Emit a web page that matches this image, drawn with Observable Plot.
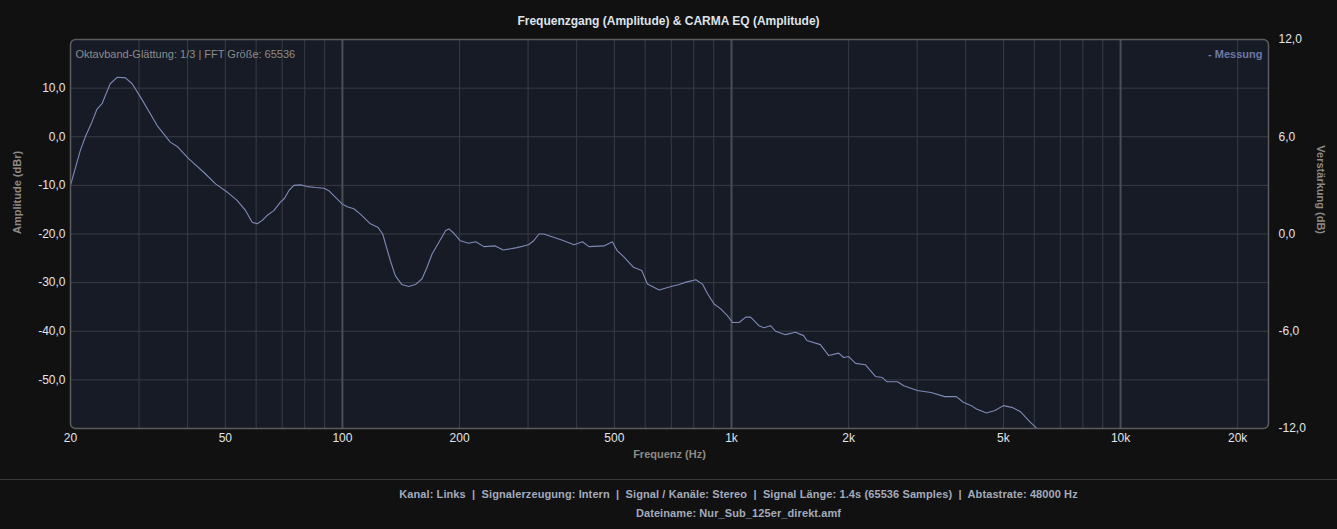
<!DOCTYPE html>
<html><head><meta charset="utf-8">
<script src="https://cdn.jsdelivr.net/npm/d3@7"></script>
<script src="https://cdn.jsdelivr.net/npm/@observablehq/plot@0.6"></script>
<style>
html,body{margin:0;padding:0;background:#111111;}
body{width:1337px;height:529px;overflow:hidden;font-family:"Liberation Sans",Arial,sans-serif;}
#title{height:16px;padding-top:14px;line-height:14px;text-align:center;font-size:12px;font-weight:bold;color:#dfe3ea;}
#chart{height:449px;}
#footer{border-top:1px solid #3a3a3a;padding-top:5px;padding-left:140px;text-align:center;font-family:"Liberation Sans",Arial,sans-serif;font-size:11px;letter-spacing:0.1px;font-weight:bold;line-height:19px;color:#a3abbb;}
</style>
</head><body>
<div id="title">Frequenzgang (Amplitude) &amp; CARMA EQ (Amplitude)</div>
<div id="chart"></div>
<div id="footer"><div>Kanal: Links &nbsp;|&nbsp; Signalerzeugung: Intern &nbsp;|&nbsp; Signal / Kanäle: Stereo &nbsp;|&nbsp; Signal Länge: 1.4s (65536 Samples) &nbsp;|&nbsp; Abtastrate: 48000 Hz</div><div>Dateiname: Nur_Sub_125er_direkt.amf</div></div>
<script>
const freqs = [20,21.2,21.9,22.7,23.4,24.1,25.3,26.4,27.7,28.8,30.3,33.4,36.1,37.6,40.3,44.0,47.2,50.6,53.6,56.4,58.6,60.4,62.2,64.0,66.6,69.2,71.0,72.8,75.0,78.0,81.2,85.4,89.7,92.2,95.0,99.8,102.8,107,111.2,118,123.2,126.9,129,132.8,136.8,142.2,148,154,160.2,165,170,177,184.2,187.8,193.4,201,211,220,231,247,259,281,301,310,320,329,363,394,414,430,470,494,508,528,560,588,608,652,699,734,764,810,842,868,902,938,976,1006,1046,1088,1120,1176,1212,1260,1298,1376,1460,1532,1562,1692,1778,1886,1942,2000,2084,2210,2344,2438,2510,2670,2772,3002,3258,3532,3784,3942,4136,4262,4524,4754,4998,5252,5520,5858,6154];
const amplitude = [-10.0,-2.8,0.25,3.0,5.7,6.8,10.9,12.25,12.1,10.9,8.1,2.3,-1.1,-2.0,-4.55,-7.3,-9.7,-11.4,-13.1,-15.2,-17.6,-17.9,-17.2,-16.2,-15.2,-13.5,-12.65,-11.1,-10.0,-9.9,-10.25,-10.45,-10.6,-11.1,-12.1,-13.8,-14.4,-14.8,-15.9,-17.9,-18.6,-20.0,-22.0,-25.5,-28.6,-30.4,-30.8,-30.4,-29.2,-26.85,-24.1,-21.7,-19.3,-18.95,-19.85,-21.4,-21.9,-21.6,-22.6,-22.45,-23.3,-22.8,-22.2,-21.4,-20.0,-20.0,-21.15,-22.2,-21.6,-22.6,-22.45,-21.6,-23.4,-24.65,-26.85,-27.5,-30.3,-31.5,-30.8,-30.4,-29.9,-29.4,-30.3,-32.3,-34.4,-35.4,-36.8,-38.2,-38.2,-37.1,-37.1,-38.85,-39.3,-38.85,-40.0,-40.7,-40.2,-40.9,-41.9,-42.75,-45.0,-44.5,-45.4,-45.2,-46.6,-46.9,-49.3,-49.5,-50.4,-50.4,-51.2,-52.2,-52.6,-53.45,-53.45,-54.6,-55.3,-56.0,-56.8,-56.3,-55.3,-55.65,-56.5,-58.7,-60.3];
const xTicks = [20,50,100,200,500,1000,2000,5000,10000,20000];
const yTicksLeft = [-50,-40,-30,-20,-10,0,10];
const yTicksRight = [-12,-6,0,6,12];
const minorGrid = [30,40,50,60,70,80,90,200,300,400,500,600,700,800,900,2000,3000,4000,5000,6000,7000,8000,9000,20000];
const majorGrid = [100,1000,10000];
const yGrid = [-50,-40,-30,-20,-10,0,10];
const note = "Oktavband-Glättung: 1/3 | FFT Größe: 65536";
const legendLabel = "- Messung";

const data = freqs.map((f,i)=>({f, a: amplitude[i]}));
const fmt = v => (Math.round(v*10)/10).toFixed(1).replace(".", ",");
const fmtHz = d => d >= 1000 ? (d/1000) + "k" : String(d);
const rightToLeft = v => -20 + v*(40/12);
const font = "'Liberation Sans', Arial, sans-serif";

const chart = Plot.plot({
  width: 1337, height: 449,
  marginLeft: 70, marginRight: 69, marginTop: 9, marginBottom: 51,
  style: {background: "transparent", color: "#e2e4e8", fontFamily: font, fontSize: "12px"},
  x: {type: "log", domain: [20, 24000], axis: null},
  y: {domain: [-60, 20]},
  marks: [
    Plot.frame({fill: "#171b25", rx: 5}),
    Plot.ruleX(minorGrid, {stroke: "#393c44", strokeWidth: 1}),
    Plot.ruleY(yGrid, {stroke: "#393c44", strokeWidth: 1}),
    Plot.ruleX(majorGrid, {stroke: "#4a4d55", strokeWidth: 2}),
    Plot.line(data, {x: "f", y: "a", stroke: "#7f89b8", strokeWidth: 1.1, clip: true}),
    Plot.frame({stroke: "#5c5c5c", strokeWidth: 1.5, rx: 5}),
    Plot.text(xTicks, {x: d => d, text: fmtHz, frameAnchor: "bottom", dy: 13, fill: "#e2e4e8", fontSize: 12}),
    Plot.axisY({anchor: "left", ticks: yTicksLeft, tickFormat: fmt, tickSize: 0, tickPadding: 5, label: null, fontSize: 12}),
    Plot.axisY({anchor: "right", ticks: yTicksRight.map(rightToLeft), tickFormat: d => fmt((d + 20) * 0.3), tickSize: 0, tickPadding: 10, label: null, fontSize: 12}),
    Plot.text(["Frequenz (Hz)"], {text: d => d, frameAnchor: "bottom", dy: 29, fill: "#8e8a86", fontWeight: "bold", fontSize: 11}),
    Plot.text(["Amplitude (dBr)"], {text: d => d, frameAnchor: "left", dx: -53, rotate: -90, fill: "#8e8a86", fontWeight: "bold", fontSize: 11}),
    Plot.text(["Verstärkung (dB)"], {text: d => d, frameAnchor: "right", dx: 52, rotate: 90, fill: "#8e8a86", fontWeight: "bold", fontSize: 11}),
    Plot.text([note], {text: d => d, frameAnchor: "top-left", dx: 5, dy: 11, textAnchor: "start", fill: "#8c8c8c", fontSize: 11}),
    Plot.text([legendLabel], {text: d => d, frameAnchor: "top-right", dx: -6, dy: 11, textAnchor: "end", fill: "#6c79a8", fontWeight: "bold", fontSize: 11})
  ]
});
document.getElementById("chart").appendChild(chart);
</script>
</body></html>
